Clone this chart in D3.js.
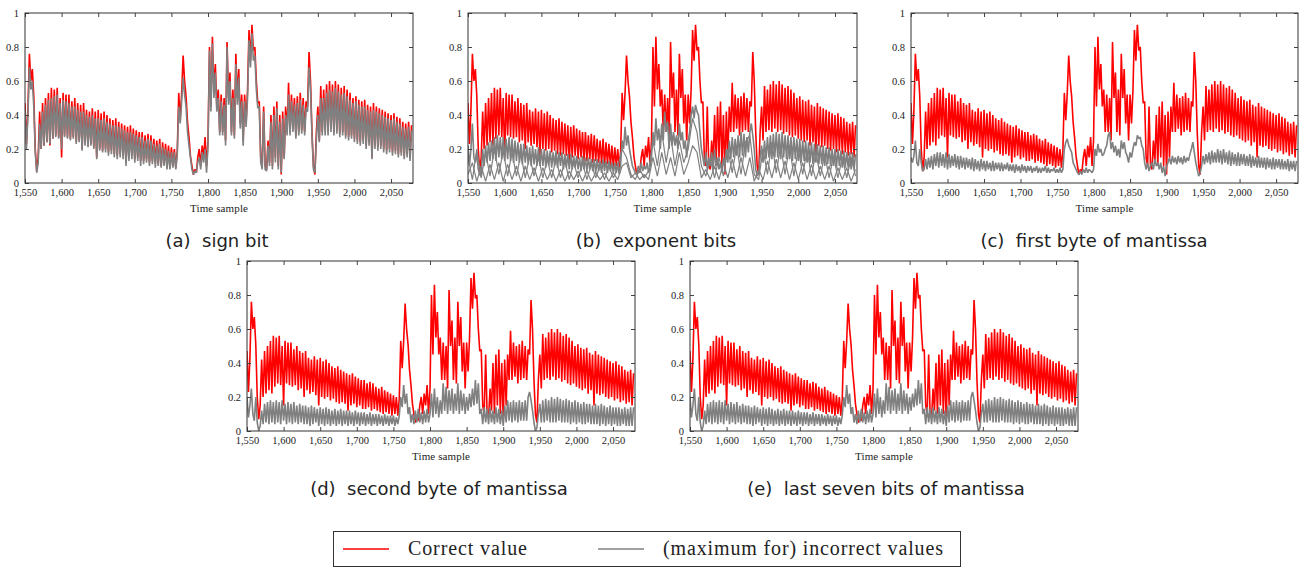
<!DOCTYPE html>
<html>
<head>
<meta charset="utf-8">
<script src="https://cdn.jsdelivr.net/npm/d3@7"></script>
<style>
  body { margin: 0; background: #fff; }
  text { fill: #222; }
</style>
</head>
<body>
<svg id="chart" width="1301" height="568"></svg>
<script>
// time samples start at 1550; each array holds one value every `step` samples
// rows of ten values = 20 samples for the step-2 arrays
const sampleStart = 1550;
const xDomain = [1550, 2080];
const xTicks = d3.range(1550, 2051, 50);
const yTicks = [0, 0.2, 0.4, 0.6, 0.8, 1];

// correct key value (same in every panel), step 2
const correct = [
  .47,.23,.43,.76,.60,.67,.51,.20,.07,.15,
  .42,.20,.47,.22,.50,.24,.53,.22,.56,.26,
  .55,.28,.56,.27,.50,.15,.53,.28,.52,.27,
  .52,.26,.48,.27,.50,.24,.47,.25,.46,.20,
  .47,.24,.43,.22,.42,.23,.44,.21,.42,.15,
  .43,.20,.41,.19,.42,.20,.40,.18,.38,.19,
  .37,.17,.38,.16,.36,.17,.35,.16,.34,.12,
  .33,.15,.34,.16,.32,.14,.31,.15,.30,.13,
  .30,.13,.28,.14,.29,.12,.28,.13,.26,.12,
  .25,.11,.26,.10,.24,.11,.23,.10,.22,.09,
  .21,.10,.20,.09,.19,.53,.37,.53,.75,.60,
  .51,.36,.27,.16,.10,.05,.08,.06,.15,.20,
  .10,.22,.15,.27,.10,.25,.80,.45,.86,.55,
  .70,.45,.55,.30,.52,.30,.50,.25,.83,.50,
  .65,.30,.55,.28,.76,.50,.67,.35,.52,.25,
  .52,.35,.55,.90,.72,.93,.78,.80,.60,.47,
  .48,.15,.10,.45,.10,.08,.25,.12,.40,.10,
  .45,.15,.48,.10,.40,.05,.42,.15,.45,.30,
  .59,.30,.52,.32,.50,.28,.51,.30,.53,.31,
  .50,.30,.48,.45,.77,.60,.30,.10,.05,.30,
  .45,.25,.57,.30,.55,.31,.58,.30,.60,.32,
  .58,.30,.60,.31,.58,.29,.56,.30,.57,.28,
  .55,.27,.53,.28,.50,.26,.51,.25,.49,.24,
  .48,.25,.49,.22,.46,.24,.45,.15,.47,.22,
  .45,.21,.44,.22,.43,.20,.42,.19,.41,.20,
  .40,.18,.41,.19,.39,.17,.38,.18,.36,.16,
  .35,.17,.36,.15,.34
];

// (a) sign bit, incorrect value, step 2
const incorrectSign = [
  .43,.20,.40,.68,.55,.60,.45,.18,.06,.12,
  .35,.20,.42,.22,.46,.24,.49,.23,.50,.26,
  .51,.27,.52,.26,.47,.20,.49,.27,.48,.26,
  .47,.25,.45,.26,.45,.23,.43,.24,.42,.19,
  .42,.22,.40,.21,.39,.22,.40,.20,.38,.14,
  .38,.19,.37,.18,.38,.18,.36,.16,.35,.17,
  .34,.15,.34,.14,.33,.15,.32,.14,.31,.10,
  .30,.13,.30,.14,.29,.12,.28,.13,.27,.10,
  .27,.11,.25,.12,.26,.10,.25,.11,.23,.09,
  .22,.10,.23,.09,.21,.10,.20,.08,.19,.08,
  .18,.09,.18,.08,.17,.45,.35,.48,.62,.52,
  .45,.30,.22,.15,.08,.05,.07,.06,.12,.15,
  .08,.18,.12,.20,.06,.22,.78,.42,.82,.50,
  .65,.42,.50,.28,.48,.28,.46,.22,.80,.46,
  .60,.28,.50,.26,.70,.46,.62,.32,.48,.22,
  .48,.33,.50,.84,.68,.88,.72,.75,.55,.44,
  .45,.12,.08,.42,.08,.07,.22,.10,.36,.08,
  .40,.12,.44,.08,.36,.06,.38,.14,.40,.28,
  .52,.28,.48,.30,.46,.26,.47,.28,.49,.29,
  .46,.28,.44,.42,.68,.55,.28,.08,.06,.26,
  .40,.24,.50,.28,.50,.28,.53,.28,.55,.30,
  .54,.28,.56,.29,.54,.27,.52,.28,.53,.26,
  .51,.25,.49,.26,.47,.24,.48,.23,.46,.22,
  .45,.23,.45,.20,.43,.22,.42,.14,.43,.20,
  .42,.19,.41,.20,.40,.18,.39,.17,.38,.18,
  .37,.16,.38,.17,.36,.15,.35,.16,.33,.14,
  .32,.15,.33,.13,.31
];

// (b) exponent bits, several incorrect values; step 2
const incorrectExp1 = [
  .22,.10,.20,.35,.15,.12,.18,.08,.05,.04,
  .20,.10,.22,.12,.24,.13,.25,.14,.27,.13,
  .28,.15,.27,.14,.27,.13,.26,.14,.27,.13,
  .26,.12,.25,.13,.24,.12,.23,.11,.23,.12,
  .22,.11,.21,.10,.22,.11,.20,.10,.21,.10,
  .20,.10,.20,.09,.19,.10,.19,.09,.18,.10,
  .19,.09,.18,.10,.18,.08,.17,.09,.17,.08,
  .17,.08,.16,.09,.16,.08,.15,.07,.16,.08,
  .15,.07,.15,.08,.14,.07,.14,.06,.14,.07,
  .13,.06,.14,.07,.13,.06,.13,.07,.12,.06,
  .12,.06,.12,.05,.11,.25,.20,.33,.22,.28,
  .20,.15,.10,.08,.06,.05,.10,.06,.12,.07,
  .10,.08,.12,.06,.09,.15,.30,.22,.38,.25,
  .32,.20,.35,.25,.42,.30,.36,.20,.35,.22,
  .30,.22,.28,.20,.35,.25,.30,.20,.25,.15,
  .25,.30,.40,.45,.38,.46,.42,.40,.30,.20,
  .15,.10,.18,.08,.15,.10,.18,.08,.20,.10,
  .15,.08,.12,.06,.15,.10,.20,.12,.25,.14,
  .27,.15,.26,.16,.28,.15,.30,.16,.29,.15,
  .27,.18,.30,.35,.28,.20,.08,.04,.06,.15,
  .22,.12,.25,.14,.27,.15,.28,.14,.29,.15,
  .30,.15,.29,.14,.30,.15,.28,.14,.28,.14,
  .27,.13,.27,.14,.26,.13,.26,.12,.25,.13,
  .25,.12,.24,.12,.24,.11,.23,.12,.23,.11,
  .22,.11,.22,.10,.21,.11,.21,.10,.20,.10,
  .20,.09,.20,.10,.19,.09,.19,.09,.18,.09,
  .18,.08,.18,.08,.17
];
// step 6
const incorrectExp2 = [
  .15,.02,.20,.03,.18,.04,.20,.05,.19,.04,
  .18,.04,.17,.03,.16,.04,.15,.03,.14,.03,
  .14,.03,.13,.02,.12,.03,.12,.02,.11,.03,
  .10,.02,.10,.03,.09,.20,.15,.05,.02,.08,
  .03,.07,.25,.10,.30,.12,.28,.10,.25,.12,
  .20,.38,.30,.10,.04,.14,.03,.15,.04,.20,
  .06,.22,.05,.24,.28,.05,.02,.20,.05,.24,
  .06,.22,.05,.22,.04,.20,.05,.19,.04,.18,
  .04,.17,.03,.16,.03,.15,.03,.15,.04
];
// step 6
const incorrectExp3 = [
  .05,.12,.01,.10,.01,.11,.02,.12,.01,.11,
  .02,.10,.01,.10,.02,.09,.01,.09,.02,.08,
  .01,.08,.01,.07,.02,.07,.01,.07,.01,.06,
  .02,.06,.01,.06,.02,.10,.12,.03,.06,.02,
  .05,.02,.15,.04,.18,.05,.15,.04,.18,.05,
  .12,.22,.18,.03,.08,.02,.10,.02,.12,.03,
  .14,.03,.15,.04,.15,.01,.08,.02,.13,.03,
  .14,.03,.13,.02,.12,.02,.12,.02,.11,.02,
  .10,.02,.10,.01,.09,.02,.09,.01,.08
];

// (c) first byte of mantissa, step 2
const incorrectFirstByte = [
  .15,.12,.16,.25,.12,.10,.20,.12,.07,.08,
  .14,.08,.15,.09,.16,.08,.17,.10,.18,.09,
  .18,.10,.17,.09,.18,.08,.17,.09,.16,.10,
  .17,.09,.16,.08,.16,.09,.15,.08,.15,.09,
  .14,.08,.15,.07,.14,.08,.13,.07,.14,.08,
  .13,.07,.13,.08,.12,.07,.13,.07,.12,.08,
  .12,.07,.12,.07,.11,.08,.12,.07,.11,.07,
  .11,.06,.11,.07,.10,.06,.11,.07,.10,.06,
  .10,.07,.10,.06,.09,.07,.10,.06,.09,.06,
  .09,.07,.10,.06,.09,.06,.08,.07,.09,.06,
  .08,.06,.09,.06,.08,.20,.24,.26,.22,.20,
  .18,.12,.10,.08,.06,.05,.07,.05,.08,.06,
  .09,.06,.08,.07,.06,.08,.20,.16,.23,.18,
  .20,.16,.17,.20,.22,.28,.30,.20,.24,.18,
  .22,.16,.20,.15,.25,.20,.24,.18,.16,.12,
  .18,.15,.20,.24,.22,.28,.26,.27,.22,.20,
  .12,.08,.12,.07,.10,.12,.08,.14,.10,.12,
  .08,.12,.06,.10,.04,.10,.12,.15,.11,.16,
  .12,.15,.11,.16,.12,.15,.11,.16,.12,.15,
  .13,.17,.20,.24,.18,.12,.08,.04,.06,.10,
  .16,.11,.17,.12,.18,.11,.19,.12,.18,.12,
  .20,.12,.19,.11,.20,.12,.18,.11,.19,.10,
  .18,.11,.17,.10,.18,.10,.17,.11,.17,.10,
  .16,.10,.17,.09,.16,.10,.15,.09,.16,.09,
  .15,.09,.15,.08,.15,.09,.14,.08,.15,.08,
  .14,.09,.14,.08,.14,.08,.13,.08,.14,.07,
  .13,.08,.13,.07,.13
];

// (d) second byte and (e) last seven bits look the same, step 2
const incorrectMantissa = [
  .20,.08,.15,.25,.10,.06,.20,.05,.00,.03,
  .12,.04,.16,.05,.17,.04,.18,.05,.17,.04,
  .18,.05,.17,.04,.18,.06,.16,.04,.17,.05,
  .16,.04,.17,.05,.15,.04,.16,.05,.15,.04,
  .15,.04,.14,.03,.15,.04,.14,.05,.13,.03,
  .14,.04,.13,.03,.14,.04,.13,.03,.12,.04,
  .13,.03,.12,.04,.13,.03,.12,.04,.12,.03,
  .12,.04,.11,.03,.12,.04,.11,.03,.11,.04,
  .11,.03,.10,.04,.11,.03,.10,.04,.10,.03,
  .10,.04,.09,.03,.10,.04,.09,.03,.09,.04,
  .09,.03,.08,.04,.09,.20,.14,.27,.16,.22,
  .10,.14,.05,.10,.04,.12,.05,.13,.05,.11,
  .04,.12,.05,.13,.05,.10,.22,.08,.25,.10,
  .20,.08,.18,.10,.28,.12,.26,.10,.24,.12,
  .25,.10,.22,.12,.28,.10,.24,.12,.22,.10,
  .20,.12,.22,.14,.25,.15,.30,.16,.28,.10,
  .13,.04,.14,.05,.13,.04,.14,.05,.12,.04,
  .14,.05,.13,.04,.12,.03,.15,.05,.18,.06,
  .17,.05,.18,.06,.17,.05,.18,.06,.17,.06,
  .18,.06,.20,.23,.18,.12,.05,.00,.02,.10,
  .16,.05,.18,.05,.19,.06,.18,.05,.20,.05,
  .19,.05,.20,.06,.19,.05,.18,.05,.19,.05,
  .18,.04,.17,.05,.18,.04,.17,.05,.16,.04,
  .17,.04,.16,.05,.16,.04,.15,.04,.16,.04,
  .15,.03,.16,.04,.15,.03,.14,.04,.15,.03,
  .14,.04,.14,.03,.14,.03,.13,.04,.14,.03,
  .13,.03,.14,.03,.14
];

const panels = [
  { left: 25,  top: 13,  width: 388, caption: '(a)  sign bit', cx: 217, cy: 247,
    gray: [[incorrectSign, 2]] },
  { left: 468, top: 13,  width: 389, caption: '(b)  exponent bits', cx: 656, cy: 247,
    gray: [[incorrectExp3, 6], [incorrectExp2, 6], [incorrectExp1, 2]] },
  { left: 911, top: 13,  width: 387, caption: '(c)  first byte of mantissa', cx: 1094, cy: 247,
    gray: [[incorrectFirstByte, 2]] },
  { left: 247, top: 261, width: 388, caption: '(d)  second byte of mantissa', cx: 439, cy: 495,
    gray: [[incorrectMantissa, 2]] },
  { left: 690, top: 261, width: 388, caption: '(e)  last seven bits of mantissa', cx: 886, cy: 495,
    gray: [[incorrectMantissa, 2]] }
];
const plotHeight = 170;

const svg = d3.select('#chart');
const serif = '"Liberation Serif", "Times New Roman", serif';

function toPoints(values, step) {
  return values.map((v, i) => [sampleStart + i * step, v]);
}

panels.forEach((p, k) => {
  let x = d3.scaleLinear().domain(xDomain).range([p.left, p.left + p.width]);
  let y = d3.scaleLinear().domain([0, 1]).range([p.top + plotHeight, p.top]);
  let line = d3.line().x((d) => x(d[0])).y((d) => y(d[1]));

  svg.append('clipPath').attr('id', 'clip' + k)
    .append('rect')
    .attr('x', p.left).attr('y', p.top)
    .attr('width', p.width).attr('height', plotHeight);

  let g = svg.append('g').attr('clip-path', `url(#clip${k})`);
  g.append('path')
    .attr('d', line(toPoints(correct, 2)))
    .attr('fill', 'none')
    .attr('stroke', '#ff0000')
    .attr('stroke-width', 1.6)
    .attr('stroke-linejoin', 'bevel');
  p.gray.forEach(([values, step]) => {
    g.append('path')
      .attr('d', line(toPoints(values, step)))
      .attr('fill', 'none')
      .attr('stroke', '#808080')
      .attr('stroke-width', step === 2 ? 1.6 : 1.2)
      .attr('stroke-linejoin', 'bevel');
  });

  // axes with inward ticks on all four sides
  let axes = [
    [d3.axisBottom(x).tickValues(xTicks).tickFormat(d3.format(',')), 0, p.top + plotHeight],
    [d3.axisTop(x).tickValues(xTicks).tickFormat(''), 0, p.top],
    [d3.axisLeft(y).tickValues(yTicks).tickFormat((d) => String(d)), p.left, 0],
    [d3.axisRight(y).tickValues(yTicks).tickFormat(''), p.left + p.width, 0]
  ];
  axes.forEach(([axis, tx, ty]) => {
    let a = svg.append('g')
      .attr('transform', `translate(${tx},${ty})`)
      .call(axis.tickSizeInner(-4).tickSizeOuter(0).tickPadding(6));
    a.select('.domain').remove();
    a.selectAll('line').attr('stroke', '#444');
    a.selectAll('text')
      .style('font-family', serif)
      .style('font-size', '10.5px')
      .attr('fill', '#222');
  });

  svg.append('rect')
    .attr('x', p.left).attr('y', p.top)
    .attr('width', p.width).attr('height', plotHeight)
    .attr('fill', 'none')
    .attr('stroke', '#333')
    .attr('stroke-width', 1);

  svg.append('text')
    .attr('x', p.left + p.width / 2)
    .attr('y', p.top + plotHeight + 29)
    .attr('text-anchor', 'middle')
    .attr('textLength', 58)
    .attr('lengthAdjust', 'spacing')
    .style('font-family', serif)
    .style('font-size', '11px')
    .text('Time sample');

  svg.append('text')
    .attr('x', p.cx)
    .attr('y', p.cy)
    .attr('text-anchor', 'middle')
    .style('font-family', '"DejaVu Sans", sans-serif')
    .style('font-size', '18px')
    .style('white-space', 'pre')
    .text(p.caption);
});

// legend
let legend = svg.append('g');
legend.append('rect')
  .attr('x', 333.5).attr('y', 531.5)
  .attr('width', 627).attr('height', 35)
  .attr('fill', 'none').attr('stroke', '#333');
let items = [
  { label: 'Correct value', color: '#ff0000', x: 343, width: 119 },
  { label: '(maximum for) incorrect values', color: '#808080', x: 598, width: 280 }
];
items.forEach((d) => {
  legend.append('line')
    .attr('x1', d.x).attr('x2', d.x + 46)
    .attr('y1', 549).attr('y2', 549)
    .attr('stroke', d.color).attr('stroke-width', 1.5);
  legend.append('text')
    .attr('x', d.x + 65).attr('y', 555)
    .attr('textLength', d.width)
    .attr('lengthAdjust', 'spacing')
    .style('font-family', serif)
    .style('font-size', '20px')
    .text(d.label);
});
</script>
</body>
</html>
